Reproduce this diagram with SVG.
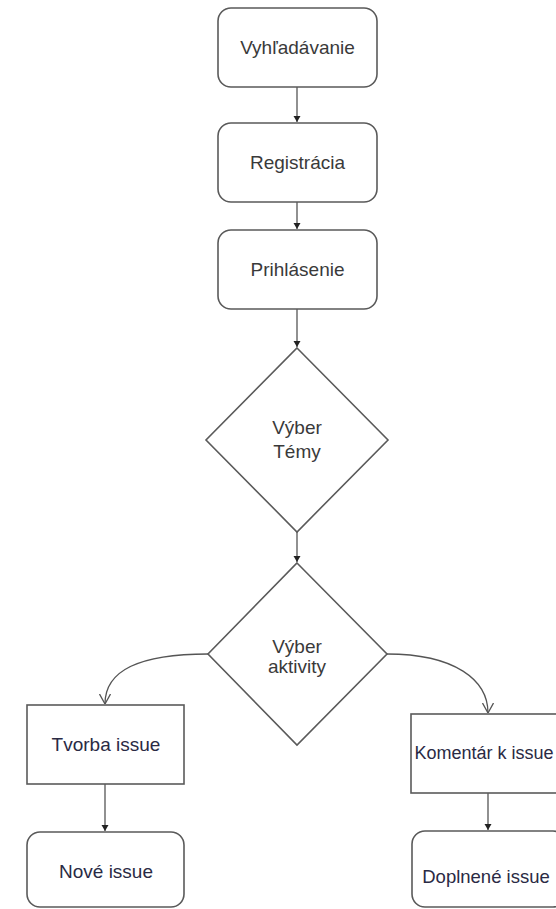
<svg xmlns="http://www.w3.org/2000/svg" width="556" height="909" viewBox="0 0 556 909">
<style>
.box{fill:#fff;stroke:#5a5a5a;stroke-width:1.6}
.lbl{font-family:"Liberation Sans",Arial,sans-serif;font-size:19px;fill:#3a3a3a;text-anchor:middle}
.lbl2{font-family:"Liberation Sans",Arial,sans-serif;font-size:19px;fill:#2a2a44;text-anchor:middle}
.conn{fill:none;stroke:#555;stroke-width:1.3}
</style>
<defs>
<marker id="tri" viewBox="0 0 6 8" refX="6" refY="4" markerWidth="6" markerHeight="8" markerUnits="userSpaceOnUse" orient="auto">
<path d="M0,0.5 L6,4 L0,7.5 Z" fill="#222"/>
</marker>
<marker id="open" viewBox="0 0 10 12" refX="10" refY="6" markerWidth="10" markerHeight="12" markerUnits="userSpaceOnUse" orient="auto">
<path d="M0,0.5 L10,6 L0,11.5" fill="none" stroke="#555" stroke-width="1.3"/>
</marker>
</defs>
<rect width="556" height="909" fill="#fff"/>
<g id="connectors">
<path class="conn" d="M297,87 V122" marker-end="url(#tri)"/>
<path class="conn" d="M297,202 V229" marker-end="url(#tri)"/>
<path class="conn" d="M297,309 V347" marker-end="url(#tri)"/>
<path class="conn" d="M297,532 V562" marker-end="url(#tri)"/>
<path class="conn" d="M208,654 C140,654 105,670 105,704" marker-end="url(#open)"/>
<path class="conn" d="M387,654 C455,654 488,680 488,713" marker-end="url(#open)"/>
<path class="conn" d="M105,784 V831" marker-end="url(#tri)"/>
<path class="conn" d="M488,793 V830" marker-end="url(#tri)"/>
</g>
<g id="vyhladavanie">
<rect class="box" x="218" y="8" width="159" height="79" rx="13"/>
<text class="lbl" x="297.5" y="54">Vyhľadávanie</text>
</g>
<g id="registracia">
<rect class="box" x="218" y="123" width="159" height="79" rx="13"/>
<text class="lbl" x="297.5" y="169">Registrácia</text>
</g>
<g id="prihlasenie">
<rect class="box" x="218" y="230" width="159" height="79" rx="13"/>
<text class="lbl" x="297.5" y="276">Prihlásenie</text>
</g>
<g id="vyber-temy">
<polygon class="box" points="297,348 388,440 297,532 206,440"/>
<text class="lbl" x="297" y="434">Výber</text>
<text class="lbl" x="297" y="458">Témy</text>
</g>
<g id="vyber-aktivity">
<polygon class="box" points="297,563 387,654 297,745 208,654"/>
<text class="lbl" x="297" y="653">Výber</text>
<text class="lbl" x="297" y="673">aktivity</text>
</g>
<g id="tvorba-issue">
<rect class="box" x="27" y="705" width="157" height="79"/>
<text class="lbl2" x="106" y="751">Tvorba issue</text>
</g>
<g id="komentar">
<rect class="box" x="411" y="714" width="154" height="79"/>
<text class="lbl2" x="484" y="759" style="font-size:18px">Komentár k issue</text>
</g>
<g id="nove-issue">
<rect class="box" x="27" y="832" width="157" height="75" rx="13"/>
<text class="lbl2" x="106" y="878">Nové issue</text>
</g>
<g id="doplnene-issue">
<rect class="box" x="412" y="831" width="154" height="76" rx="13"/>
<text class="lbl2" x="486" y="883" style="font-size:18.5px">Doplnené issue</text>
</g>
</svg>
